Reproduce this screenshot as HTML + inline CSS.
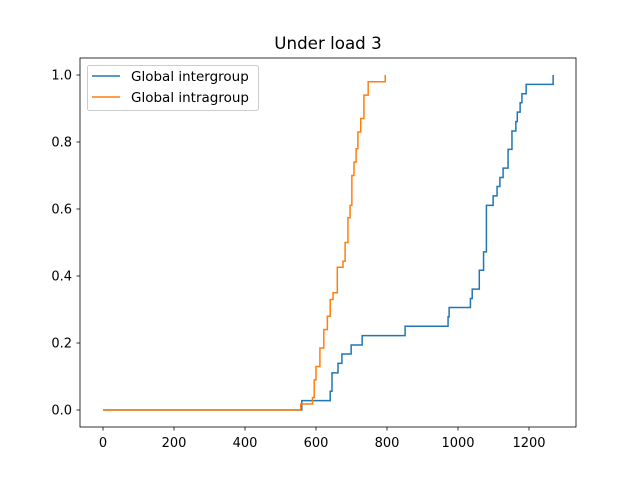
<!DOCTYPE html>
<html><head><meta charset="utf-8"><style>
body{margin:0;background:#fff;}
svg text{font-family:"DejaVu Sans","Liberation Sans",sans-serif;}
</style></head><body>
<svg id="chart" width="640" height="480" xmlns="http://www.w3.org/2000/svg">
<rect width="640" height="480" fill="#fff"/>
<text x="328" y="49" font-size="16.7" text-anchor="middle">Under load 3</text>
<g id="plot"></g>
<rect x="80" y="58" width="496" height="369" fill="none" stroke="#000" stroke-width="0.8"/>
<g id="axes"></g>
<g>
<rect x="87.5" y="65.5" width="171" height="45" rx="2" fill="#fff" fill-opacity="0.8" stroke="#ccc"/>
<line x1="92" y1="76" x2="120" y2="76" stroke="#1f77b4" stroke-width="1.5"/>
<text x="131" y="81" font-size="13.5">Global intergroup</text>
<line x1="92" y1="97" x2="120" y2="97" stroke="#ff7f0e" stroke-width="1.5"/>
<text x="131" y="102" font-size="13.5">Global intragroup</text>
</g>
</svg>
<script>
const xTicks=[0,200,400,600,800,1000,1200];
const yTicks=[0.0,0.2,0.4,0.6,0.8,1.0];
const interX=[0,560,640,645,662,673,699,730,851,972,975,1035,1040,1060,1072,1080,1099,1110,1118,1127,1141,1152,1163,1167,1175,1180,1192,1268];
const interY=[0,0.028,0.056,0.111,0.139,0.167,0.194,0.222,0.25,0.278,0.306,0.333,0.361,0.417,0.472,0.611,0.639,0.667,0.694,0.722,0.778,0.833,0.861,0.889,0.917,0.944,0.972,1.0];
const intraX=[0,557,590,595,600,611,622,632,640,648,660,676,682,690,696,701,707,713,718,726,735,747,795];
const intraY=[0,0.018,0.037,0.09,0.13,0.185,0.24,0.28,0.33,0.35,0.426,0.444,0.5,0.574,0.611,0.70,0.74,0.78,0.83,0.87,0.94,0.98,1.0];
const sx=v=>103+v*0.355;
const sy=v=>410-v*335;
const NS="http://www.w3.org/2000/svg";
const plot=document.getElementById('plot'),axes=document.getElementById('axes');
function stepPath(xs,ys){let d=`M${sx(xs[0])},${sy(ys[0])}`;for(let i=1;i<xs.length;i++){d+=`H${sx(xs[i])}V${sy(ys[i])}`;}return d;}
function addLine(xs,ys,c,name){const p=document.createElementNS(NS,'path');p.setAttribute('d',stepPath(xs,ys));p.setAttribute('fill','none');p.setAttribute('stroke',c);p.setAttribute('stroke-width','1.5');


plot.appendChild(p);}
addLine(interX,interY,'#1f77b4','intergroup-line');
addLine(intraX,intraY,'#ff7f0e','intragroup-line');
xTicks.forEach(t=>{const x=sx(t);const l=document.createElementNS(NS,'line');l.setAttribute('x1',x);l.setAttribute('x2',x);l.setAttribute('y1',427);l.setAttribute('y2',430.5);l.setAttribute('stroke','#000');l.setAttribute('stroke-width','0.8');


axes.appendChild(l);const tx=document.createElementNS(NS,'text');tx.setAttribute('x',x);tx.setAttribute('y',447);tx.setAttribute('font-size','13');tx.setAttribute('text-anchor','middle');tx.textContent=t;


axes.appendChild(tx);});
yTicks.forEach(t=>{const y=sy(t);const l=document.createElementNS(NS,'line');l.setAttribute('x1',76.5);l.setAttribute('x2',80);l.setAttribute('y1',y);l.setAttribute('y2',y);l.setAttribute('stroke','#000');l.setAttribute('stroke-width','0.8');


axes.appendChild(l);const tx=document.createElementNS(NS,'text');tx.setAttribute('x',72);tx.setAttribute('y',y+4.7);tx.setAttribute('font-size','13');tx.setAttribute('text-anchor','end');tx.textContent=t.toFixed(1);


axes.appendChild(tx);});
</script>
</body></html>
